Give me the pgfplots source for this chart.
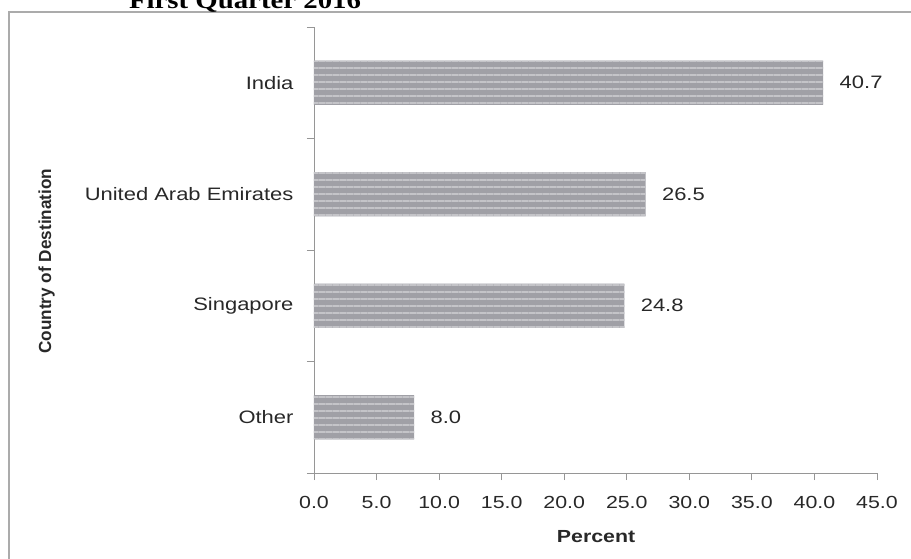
\documentclass[border=0pt]{standalone}
\usepackage{fontspec}
\setmainfont[FakeStretch=1.22]{Liberation Sans}
\newfontfamily\titlefont[FakeStretch=1.2]{Liberation Serif}
\newfontfamily\ylabfont[FakeStretch=0.98]{Liberation Sans}
\usepackage{pgfplots}
\pgfplotsset{compat=1.18}
\usetikzlibrary{patterns.meta}
\definecolor{barfill}{RGB}{160,160,166}
\definecolor{stripe}{RGB}{196,196,200}
\definecolor{axgray}{RGB}{150,150,150}
\definecolor{txt}{RGB}{40,40,40}

\begin{document}
\begin{tikzpicture}
\clip (0,0) rectangle (911pt,558pt);
\draw[color=axgray!80, line width=1.8pt] (9pt,-5pt) -- (9pt,546pt) -- (920pt,546pt);
\node[font=\titlefont\bfseries\fontsize{24}{28}\selectfont, anchor=base] at (245pt,549pt) {First Quarter 2016};
\begin{axis}[
  at={(314pt,85pt)}, anchor=south west,
  scale only axis, width=563pt, height=446pt,
  xbar, bar width=0.395,
  xmin=0, xmax=45, ymin=-0.5, ymax=3.5,
  axis x line*=bottom, axis y line*=left,
  axis line style={axgray, line width=0.8pt},
  tick align=outside, major tick length=7pt,
  xtick={0,5,...,45},
  x tick style={draw=axgray, line width=0.8pt},
  ytick={0,1,2,3},
  yticklabels={Other,Singapore,United Arab Emirates,India},
  y tick style={draw=none},
  extra y ticks={-0.5,0.5,1.5,2.5,3.5},
  extra y tick labels={},
  extra y tick style={y tick style={draw=axgray, line width=0.8pt}},
  /pgf/number format/assume math mode=true,
  xticklabel style={font=\fontsize{17.5}{20}\selectfont, text=txt, yshift=-13pt,
    /pgf/number format/.cd, fixed, fixed zerofill, precision=1},
  yticklabel style={font=\fontsize{18}{20}\selectfont, text=txt, xshift=-10pt},
  xlabel={\textbf{Percent}},
  every axis x label/.style={at={(axis description cs:0.501,-0.1435)}, anchor=center, font=\fontsize{17.5}{20}\selectfont, text=txt},
  ylabel={\ylabfont\bfseries Country of Destination},
  every axis y label/.style={at={(axis description cs:-0.475,0.475)}, anchor=center, rotate=90, font=\fontsize{17.5}{20}\selectfont, text=txt},
  point meta=x,
  nodes near coords={\pgfmathprintnumber[fixed,fixed zerofill,precision=1,assume math mode=true]{\pgfplotspointmeta}},
  every node near coord/.append style={font=\fontsize{18}{20}\selectfont, text=txt, anchor=west, xshift=13pt},
  clip=false,
]
\addplot[draw=none, fill=barfill, postaction={pattern={Lines[angle=0,distance=7pt,line width=1.4pt]}, pattern color=stripe}]
  coordinates {(8.0,0) (24.8,1) (26.5,2) (40.7,3)};
\end{axis}
\end{tikzpicture}
\end{document}
